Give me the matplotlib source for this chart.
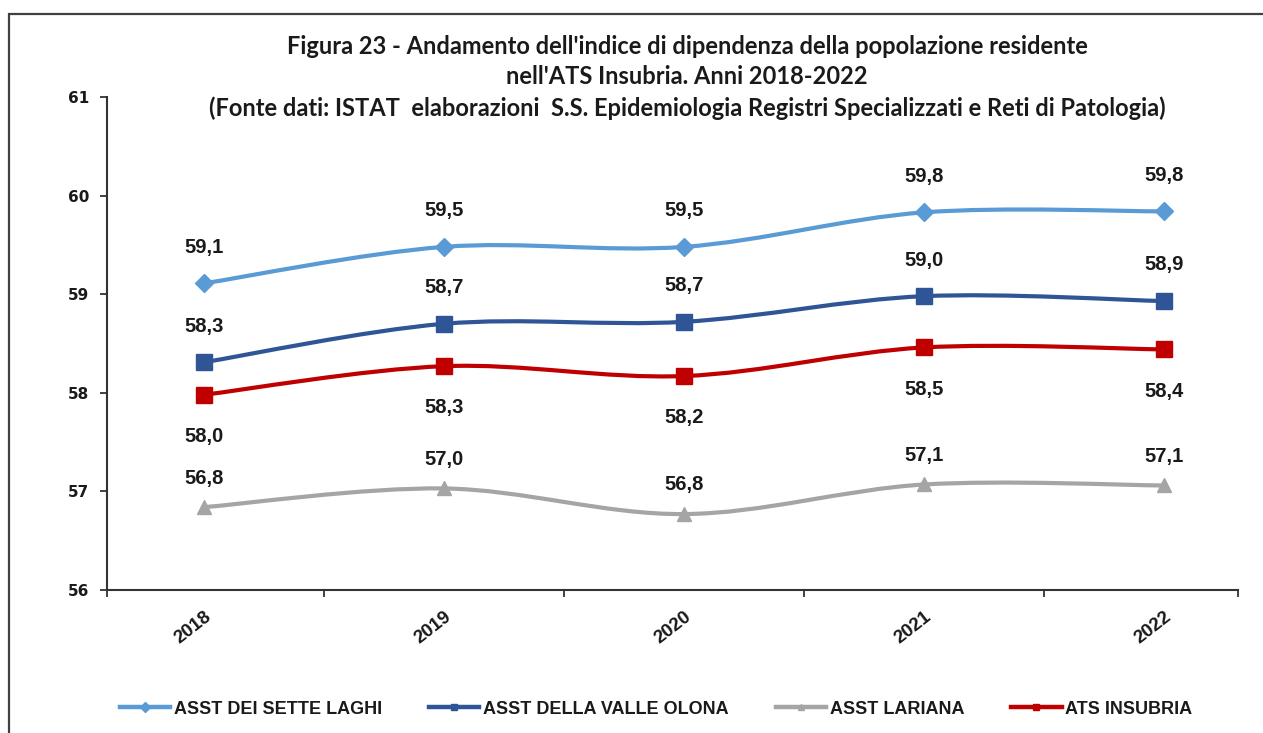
import matplotlib.pyplot as plt
from matplotlib.path import Path
from matplotlib.patches import PathPatch, Rectangle
from matplotlib.lines import Line2D

years = ["2018", "2019", "2020", "2021", "2022"]
sette_laghi = [59.11, 59.48, 59.48, 59.83, 59.84]
valle_olona = [58.31, 58.70, 58.72, 58.98, 58.93]
lariana = [56.84, 57.03, 56.77, 57.07, 57.06]
ats_insubria = [57.98, 58.27, 58.17, 58.46, 58.44]

series_names = ["ASST DEI SETTE LAGHI", "ASST DELLA VALLE OLONA", "ASST LARIANA", "ATS INSUBRIA"]

TXT = "#1a1a1a"
LBL_FONT = ["Liberation Sans", "DejaVu Sans"]
TITLE_FONT = ["Lato", "DejaVu Sans"]


def smooth_path(xs, ys):
    # Excel-like smoothed line: Catmull-Rom converted to cubic Bezier segments
    pts = list(zip(xs, ys))
    verts = [pts[0]]
    codes = [Path.MOVETO]
    n = len(pts)
    for i in range(n - 1):
        p0 = pts[i - 1] if i > 0 else pts[i]
        p1 = pts[i]
        p2 = pts[i + 1]
        p3 = pts[i + 2] if i + 2 < n else pts[i + 1]
        c1 = (p1[0] + (p2[0] - p0[0]) / 6, p1[1] + (p2[1] - p0[1]) / 6)
        c2 = (p2[0] - (p3[0] - p1[0]) / 6, p2[1] - (p3[1] - p1[1]) / 6)
        verts += [c1, c2, p2]
        codes += [Path.CURVE4] * 3
    return Path(verts, codes)


fig = plt.figure(figsize=(12.63, 7.33), dpi=100)
ax = fig.add_axes([107 / 1263, 1 - 590 / 733, (1238 - 107) / 1263, (590 - 97) / 733])

# frame around the chart area (right/bottom edges fall outside the picture)
fig.patches.append(Rectangle((9 / 1263, -0.05), 1.1, 1 - 14 / 733 + 0.05,
                             transform=fig.transFigure, fill=False,
                             edgecolor="#404040", linewidth=1.6))

x = list(range(len(years)))
styles = [
    (sette_laghi, "#5B9BD5", "D", 9, 26),
    (valle_olona, "#2F5597", "s", 11, 26),
    (lariana, "#A5A5A5", "^", 10.5, 21),
    (ats_insubria, "#C00000", "s", 11, -30),
]

handles = []
for (vals, col, mk, ms, off), name in zip(styles, series_names):
    ax.add_patch(PathPatch(smooth_path(x, vals), fill=False, edgecolor=col,
                           linewidth=3, capstyle="round", joinstyle="round", zorder=3))
    ax.plot(x, vals, linestyle="none", marker=mk, markersize=ms, color=col, zorder=4)
    for xi, v in zip(x, vals):
        ax.annotate(f"{v:.1f}".replace(".", ","), (xi, v), xytext=(0, off),
                    textcoords="offset points", ha="center", va="center",
                    fontsize=14.5, fontweight="bold", color=TXT, family=LBL_FONT)
    handles.append(Line2D([], [], color=col, linewidth=3.2, marker=mk, markersize=5))

ax.set_xlim((107 - 204) / 240, (1238 - 204) / 240)
ax.set_ylim(56, 61)
ax.set_yticks([56, 57, 58, 59, 60, 61])
ax.set_xticks(x)
ax.set_xticklabels(years, rotation=38, ha="right", rotation_mode="anchor")
ax.set_xticks([ax.get_xlim()[0], 0.5, 1.5, 2.5, 3.5, ax.get_xlim()[1]], minor=True)
ax.tick_params(axis="x", which="major", length=0, pad=13)
ax.tick_params(axis="x", which="minor", length=5, width=1.3, color="#333333")
ax.tick_params(axis="y", length=5, width=1.3, color="#333333", pad=8)
for lab in ax.get_xticklabels():
    lab.set_family(LBL_FONT)
    lab.set_fontweight("bold")
    lab.set_fontsize(13.5)
    lab.set_color(TXT)
for lab in ax.get_yticklabels():
    lab.set_family(["DejaVu Sans"])
    lab.set_fontweight("bold")
    lab.set_fontsize(11)
    lab.set_color(TXT)

for side in ["top", "right"]:
    ax.spines[side].set_visible(False)
for side in ["left", "bottom"]:
    ax.spines[side].set_color("#333333")
    ax.spines[side].set_linewidth(1.5)

title_lines = [
    "Figura 23 - Andamento dell'indice di dipendenza della popolazione residente",
    "nell'ATS Insubria. Anni 2018-2022",
    "(Fonte dati: ISTAT  elaborazioni  S.S. Epidemiologia Registri Specializzati e Reti di Patologia)",
]
for line, ypx in zip(title_lines, [47, 77, 108]):
    fig.text(687 / 1263, 1 - ypx / 733, line, ha="center", va="center",
             fontsize=17, fontweight="bold", color=TXT, family=TITLE_FONT)

leg = fig.legend(handles, series_names, loc="center", bbox_to_anchor=(656 / 1263, 1 - 709 / 733),
                 ncol=4, frameon=False, handlelength=2.8, handletextpad=0.2,
                 columnspacing=2.6, prop={"family": LBL_FONT, "weight": "bold", "size": 13})
for t in leg.get_texts():
    t.set_color(TXT)

fig.savefig("out.png", dpi=100)
